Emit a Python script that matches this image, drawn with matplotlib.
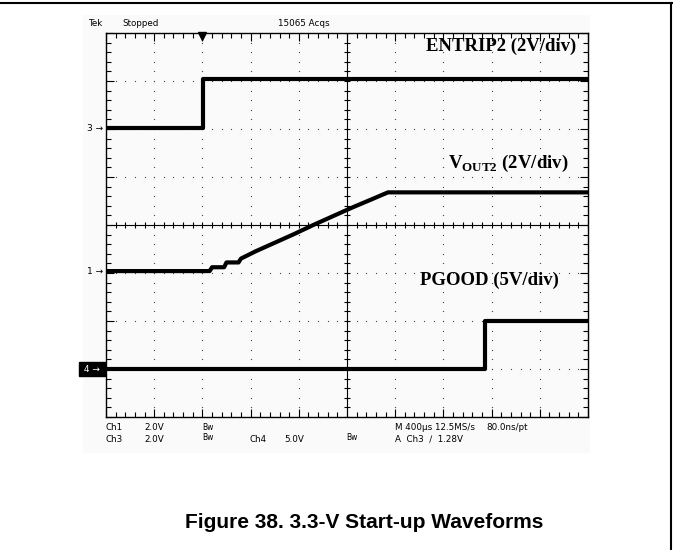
import matplotlib
matplotlib.use('Agg')
import matplotlib.pyplot as plt
from matplotlib.patches import Rectangle
from matplotlib.lines import Line2D
import numpy as np

plt.rcParams['mathtext.fontset'] = 'custom'
plt.rcParams['mathtext.bf'] = 'Liberation Serif:bold'
plt.rcParams['mathtext.rm'] = 'Liberation Serif:bold'

W, H = 673, 550

# 波形数据（单位：格）
entrip_x = [0.0, 2.01, 2.01, 10.0]
entrip_y = [2.02, 2.02, 3.04, 3.04]

vout_x = [0.0, 2.15, 2.2, 2.45, 2.5, 2.75, 2.8, 3.1, 3.5, 3.9, 4.3, 4.7, 5.1, 5.5, 5.85, 10.0]
vout_y = [-0.96, -0.96, -0.88, -0.88, -0.78, -0.78, -0.70, -0.55, -0.37, -0.19, 0.0, 0.18, 0.36, 0.53, 0.68, 0.68]

pgood_x = [0.0, 7.86, 7.86, 10.0]
pgood_y = [-3.0, -3.0, -2.0, -2.0]

trigger_x = 2.0
marker_levels = {'3': 2.02, '1': -0.96}
ch4_level = -3.0


def px(x, y):
    """像素坐标 -> figure 坐标"""
    return x / W, 1 - y / H


fig = plt.figure(figsize=(W / 100, H / 100), dpi=100)

# 外框
fig.add_artist(Line2D([0, 1], [1 - 3 / H, 1 - 3 / H], color='black', lw=1.5))
fig.add_artist(Line2D([671 / W, 671 / W], [0, 1 - 3 / H], color='black', lw=1.5))

# 示波器屏幕浅灰背景
fig.add_artist(Rectangle(px(83, 453), (590 - 83) / W, (453 - 15) / H,
                         facecolor='#fafafa', edgecolor='none', zorder=0))

left, right, top, bottom = 106, 588, 33, 417
ax = fig.add_axes([left / W, 1 - bottom / H, (right - left) / W, (bottom - top) / H])
ax.set_xlim(0, 10)
ax.set_ylim(-4, 4)
ax.patch.set_alpha(0)
for s in ax.spines.values():
    s.set_linewidth(1.0)

ax.set_xticks(range(0, 11))
ax.set_yticks(range(-4, 5))
ax.set_xticks(np.arange(0, 10.01, 0.2), minor=True)
ax.set_yticks(np.arange(-4, 4.01, 0.2), minor=True)
ax.tick_params(which='both', direction='in', top=True, right=True,
               labelbottom=False, labelleft=False, width=0.8)
ax.tick_params(which='major', length=6)
ax.tick_params(which='minor', length=3.5)

# 点状网格
dots = np.arange(-4, 4.01, 0.2)
for gx in range(1, 10):
    if gx != 5:
        ax.plot([gx] * len(dots), dots, '.', color='#444444', ms=1.8, mew=0)
dxs = np.arange(0, 10.01, 0.2)
for gy in range(-3, 4):
    if gy != 0:
        ax.plot(dxs, [gy] * len(dxs), '.', color='#444444', ms=1.8, mew=0)

# 中心十字与刻度
ax.axhline(0, color='black', lw=0.8)
ax.axvline(5, color='black', lw=0.8)
ax.plot(dxs, [0] * len(dxs), 'k|', ms=5, mew=0.8)
ax.plot([5] * len(dots), dots, 'k_', ms=5, mew=0.8)

# 波形
kw = dict(color='black', lw=3.0, solid_capstyle='butt')
ax.plot(entrip_x, entrip_y, **kw)
ax.plot(vout_x, vout_y, **kw)
ax.plot(pgood_x, pgood_y, **kw)
ax.plot(entrip_x[1:3], entrip_y[1:3], color='black', lw=1.0)
ax.plot(pgood_x[1:3], pgood_y[1:3], color='black', lw=1.0)

# 触发标记
ax.plot([trigger_x], [3.93], marker='v', color='black', ms=6, clip_on=False)

# 通道标记
trans = ax.get_yaxis_transform()
for lab, lv in marker_levels.items():
    ax.text(-0.006, lv, lab + ' \u2192', transform=trans, ha='right', va='center',
            fontsize=6.5, family='DejaVu Sans')
ax.text(-0.006, ch4_level, ' 4 \u2192 ', transform=trans, ha='right', va='center',
        fontsize=6.5, color='white', family='DejaVu Sans',
        bbox=dict(boxstyle='square,pad=0.25', facecolor='black', edgecolor='black'))

# 波形标签
serif = dict(family='Liberation Serif', weight='bold', fontsize=13.5, ha='right', va='center')
fig.text(*px(576, 46), 'ENTRIP2 (2V/div)', **serif)
fig.text(*px(568, 163), r'$\mathbf{V}_{\mathbf{OUT2}}$ (2V/div)', **serif)
fig.text(*px(559, 280), 'PGOOD (5V/div)', **serif)

# 示波器状态文字
small = dict(family='DejaVu Sans', fontsize=6.3, va='center', ha='left')
bw = dict(small, fontsize=5.5)
fig.text(*px(88, 24), 'Tek', **small)
fig.text(*px(122, 24), 'Stopped', **small)
fig.text(*px(278, 24), '15065 Acqs', **small)

fig.text(*px(106, 428), 'Ch1', **small)
fig.text(*px(144, 428), '2.0V', **small)
fig.text(*px(202, 427), 'Bw', **bw)
fig.text(*px(106, 439), 'Ch3', **small)
fig.text(*px(144, 439), '2.0V', **small)
fig.text(*px(202, 438), 'Bw', **bw)
fig.text(*px(249, 439), 'Ch4', **small)
fig.text(*px(284, 439), '5.0V', **small)
fig.text(*px(346, 438), 'Bw', **bw)
fig.text(*px(395, 428), 'M 400\u00b5s 12.5MS/s', **small)
fig.text(*px(486, 428), '80.0ns/pt', **small)
fig.text(*px(395, 439), 'A  Ch3  \u2215  1.28V', **small)

# 图题
fig.text(*px(364, 523), 'Figure 38. 3.3-V Start-up Waveforms', family='Liberation Sans',
         weight='bold', fontsize=15, ha='center', va='center')

fig.savefig('out.png', dpi=100)
